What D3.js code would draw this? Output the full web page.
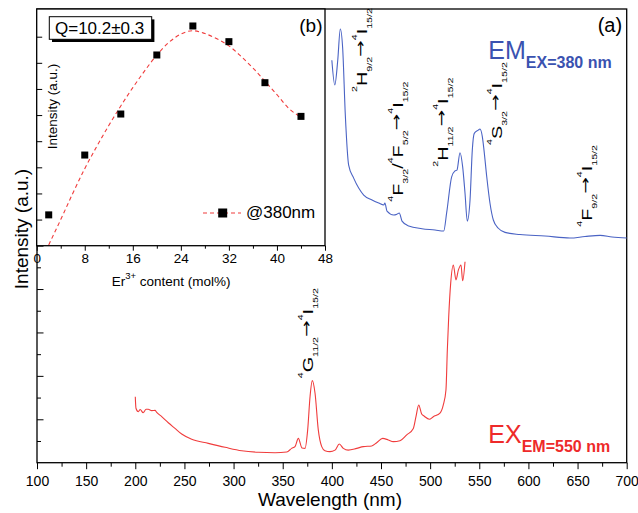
<!DOCTYPE html>
<html>
<head>
<meta charset="utf-8">
<script src="https://cdn.jsdelivr.net/npm/d3@7"></script>
<style>
  body { margin: 0; background: #fff; }
  svg { font-family: "Liberation Sans", Arial, sans-serif; }
</style>
</head>
<body>
<svg id="chart" width="638" height="513"></svg>
<script>
// emission spectrum (excitation 380 nm)
const emWavelength = [400,403,406,408.6,411,413.7,417.1,422.2,427.3,432.4,440.9,447.7,452.8,454,456.1,462.9,466.3,468.6,471.4,478.2,491.7,505,513.8,516.9,521.9,525.3,527.3,530.4,533.1,535.5,537.8,540.6,542.9,544.9,549,550.7,553.1,554.8,557.6,560.9,564.3,569.4,576.2,591.4,616.9,642.3,657.6,672.9,685.1,700];
const emIntensity = [18.54,17.40,18.54,19.98,19.10,16.02,13.71,13.11,12.65,12.33,12.10,11.96,11.87,11.96,11.59,11.41,11.45,11.50,11.13,10.90,10.78,10.72,10.67,11.54,13.17,13.44,13.48,14.28,13.63,12.41,11.13,12.10,14.40,15.17,15.32,15.37,15.02,14.40,13.17,11.95,11.18,10.80,10.61,10.51,10.44,10.35,10.42,10.47,10.40,10.35];

// excitation spectrum (emission 550 nm)
const exWavelength = [200,200.7,203.1,205,208,211,213.2,216.7,220.1,221.8,226.9,233.6,240.4,247.2,257.4,274.3,291.3,308.3,325.2,342.2,354.1,359.1,362.5,365.9,369.6,372.7,375.4,377.8,380.1,382.9,386.2,389.7,393,398.1,403.2,407.6,411.7,416.7,425.3,432,440.6,445.6,451.7,457.4,462.5,469.3,476.2,482.9,485.6,488.4,491.4,493.8,499.2,503.2,510,513.4,516.1,517.5,518.9,520.9,523.6,526.3,528.7,531.4,533.1,535.5];
const exIntensity = [3.04,2.51,2.35,2.45,2.30,2.46,2.46,2.40,2.41,2.32,2.12,1.84,1.58,1.32,1.08,0.89,0.71,0.55,0.48,0.46,0.49,0.66,0.74,1.12,0.68,0.66,1.51,3.04,3.78,3.20,1.51,0.74,0.55,0.51,0.58,0.86,0.66,0.58,0.66,0.74,0.77,0.92,1.12,1.05,0.97,1.01,1.28,1.58,2.12,2.66,2.24,2.15,2.00,2.12,2.28,2.66,3.35,5.19,6.72,8.26,9.11,8.42,8.87,9.11,8.38,9.26];

// inset (b): intensity vs Er3+ content
const erContent = [2,8,14,20,26,32,38,44];
const erIntensity = [1.18,3.47,5.04,7.30,8.41,7.81,6.24,4.95];
const fitContent = [2,4,6,8,10,12,14,16,18,20,22,24,26,28,30,32,34,36,38,40,42,44];
const fitIntensity = [0.03,1.0,2.0,2.95,3.8,4.6,5.35,6.05,6.7,7.3,7.78,8.1,8.23,8.12,7.92,7.65,7.25,6.8,6.3,5.78,5.25,4.92];

// ticks
const wlMajor = [100,150,200,250,300,350,400,450,500,550,600,650,700];
const wlMinor = [125,175,225,275,325,375,425,475,525,575,625,675];
const mainYMajor = [2,4,6,8,10,12,14,16,18,20];
const mainYMinor = [1,3,5,7,9,11,13,15,17,19];
const erMajor = [0,8,16,24,32,40,48];
const erMinor = [4,12,20,28,36,44];
const insetYMajor = [2,4,6,8];
const insetYMinor = [1,3,5,7];

const blue = "#4a63c4", red = "#f03c3c";
const svg = d3.select("#chart");

// main panel
const x = d3.scaleLinear().domain([100, 700]).range([37, 626.7]);
const y = d3.scaleLinear().domain([0, 20.9]).range([462.7, 9]);

svg.append("g")
  .attr("transform", "translate(0,462.7)")
  .call(d3.axisBottom(x).tickValues(wlMajor).tickSize(6.5).tickPadding(6.5))
  .call(g => g.select(".domain").remove())
  .call(g => g.selectAll("text").attr("font-size", 14).attr("font-family", null));
svg.append("g")
  .attr("transform", "translate(0,462.7)")
  .call(d3.axisBottom(x).tickValues(wlMinor).tickSize(4).tickFormat(""))
  .call(g => g.select(".domain").remove());
svg.append("g")
  .attr("transform", "translate(37,0)")
  .call(d3.axisLeft(y).tickValues(mainYMajor).tickSize(-6.5).tickFormat(""))
  .call(g => g.select(".domain").remove());
svg.append("g")
  .attr("transform", "translate(37,0)")
  .call(d3.axisLeft(y).tickValues(mainYMinor).tickSize(-4).tickFormat(""))
  .call(g => g.select(".domain").remove());

svg.append("rect")
  .attr("x", 37).attr("y", 9).attr("width", 589.7).attr("height", 453.7)
  .attr("fill", "none").attr("stroke", "#000").attr("stroke-width", 1.3);

const line = d3.line().curve(d3.curveMonotoneX);
svg.append("path")
  .attr("d", line(emWavelength.map((w, i) => [x(w), y(emIntensity[i])])))
  .attr("fill", "none").attr("stroke", blue).attr("stroke-width", 1.1);
svg.append("path")
  .attr("d", line(exWavelength.map((w, i) => [x(w), y(exIntensity[i])])))
  .attr("fill", "none").attr("stroke", red).attr("stroke-width", 1.1);

svg.append("text")
  .attr("transform", "translate(28,229) rotate(-90)")
  .attr("text-anchor", "middle").attr("font-size", 19)
  .text("Intensity (a.u.)");
svg.append("text")
  .attr("x", 330).attr("y", 506)
  .attr("text-anchor", "middle").attr("font-size", 19)
  .text("Wavelength (nm)");

svg.append("text").attr("x", 597.7).attr("y", 31.5).attr("font-size", 20).text("(a)");

// series labels
const emLabel = svg.append("text").attr("x", 488.3).attr("y", 59.3).attr("fill", "#3a52b0").attr("font-size", 25);
emLabel.append("tspan").text("EM");
emLabel.append("tspan").attr("dy", 9).attr("font-size", 16).attr("font-weight", "bold").text("EX=380 nm");
const exLabel = svg.append("text").attr("x", 488.3).attr("y", 442.7).attr("fill", "#ee2a2a").attr("font-size", 25);
exLabel.append("tspan").text("EX");
exLabel.append("tspan").attr("dy", 9).attr("font-size", 16).attr("font-weight", "bold").text("EM=550 nm");

// rotated transition labels with super/subscripts
function transition(px, py, parts) {
  const t = svg.append("text")
    .attr("transform", `translate(${px},${py}) rotate(-90) scale(1.42,1)`)
    .attr("font-size", 14);
  let cur = 0;
  parts.forEach(([s, kind]) => {
    const off = kind === "sup" ? -10 : kind === "sub" ? 5 : kind === "arr" ? -2 : 0;
    const size = kind === "sup" || kind === "sub" ? 7.5 : 14;
    t.append("tspan")
      .attr("dy", off - cur)
      .attr("font-size", size)
      .attr("font-family", kind === "arr" ? "DejaVu Sans" : null)
      .text(s);
    cur = off;
  });
}
const arrowTo = [["\u2192", "arr"], ["4", "sup"], ["I"], ["15/2", "sub"]];
transition(367, 92, [["2", "sup"], ["H"], ["9/2", "sub"], ...arrowTo]);
transition(402.7, 201.7, [["4", "sup"], ["F"], ["3/2", "sub"], ["/"], ["4", "sup"], ["F"], ["5/2", "sub"], ...arrowTo]);
transition(448.3, 166.7, [["2", "sup"], ["H"], ["11/2", "sub"], ...arrowTo]);
transition(501.7, 145, [["4", "sup"], ["S"], ["3/2", "sub"], ...arrowTo]);
transition(591.7, 226.7, [["4", "sup"], ["F"], ["9/2", "sub"], ...arrowTo]);
transition(313.3, 378.3, [["4", "sup"], ["G"], ["11/2", "sub"], ...arrowTo]);

// inset panel (b)
const ix = d3.scaleLinear().domain([0, 48]).range([36.7, 325]);
const iy = d3.scaleLinear().domain([0, 9.06]).range([245.7, 9]);

svg.append("rect")
  .attr("x", 36.7).attr("y", 9).attr("width", 288.3).attr("height", 236.7)
  .attr("fill", "#fff");

svg.append("g")
  .attr("transform", "translate(0,245.7)")
  .call(d3.axisBottom(ix).tickValues(erMajor).tickSize(5).tickPadding(3))
  .call(g => g.select(".domain").remove())
  .call(g => g.selectAll("text").attr("font-size", 13.5).attr("font-family", null));
svg.append("g")
  .attr("transform", "translate(0,245.7)")
  .call(d3.axisBottom(ix).tickValues(erMinor).tickSize(3).tickFormat(""))
  .call(g => g.select(".domain").remove());
svg.append("g")
  .attr("transform", "translate(36.7,0)")
  .call(d3.axisLeft(iy).tickValues(insetYMajor).tickSize(-5.5).tickFormat(""))
  .call(g => g.select(".domain").remove());
svg.append("g")
  .attr("transform", "translate(36.7,0)")
  .call(d3.axisLeft(iy).tickValues(insetYMinor).tickSize(-5.5).tickFormat(""))
  .call(g => g.select(".domain").remove());

svg.append("rect")
  .attr("x", 36.7).attr("y", 9).attr("width", 288.3).attr("height", 236.7)
  .attr("fill", "none").attr("stroke", "#000").attr("stroke-width", 1.3);

svg.append("path")
  .attr("d", line(fitContent.map((c, i) => [ix(c), iy(fitIntensity[i])])))
  .attr("fill", "none").attr("stroke", red).attr("stroke-width", 1.1)
  .attr("stroke-dasharray", "4,3");

svg.selectAll(".er-dot")
  .data(erContent)
  .enter()
  .append("rect")
  .attr("class", "er-dot")
  .attr("x", (d, i) => ix(d) - 3.5)
  .attr("y", (d, i) => iy(erIntensity[i]) - 3.5)
  .attr("width", 7).attr("height", 7)
  .attr("fill", "#000");

svg.append("text")
  .attr("transform", "translate(57,106.5) rotate(-90)")
  .attr("text-anchor", "middle").attr("font-size", 13.5)
  .text("Intensity (a.u.)");

const erLabel = svg.append("text").attr("x", 111.7).attr("y", 286).attr("font-size", 13.5);
erLabel.append("tspan").text("Er");
erLabel.append("tspan").attr("dy", -7).attr("font-size", 9.5).text("3+");
erLabel.append("tspan").attr("dy", 7).text(" content (mol%)");

// Q box with shadow
svg.append("rect").attr("x", 52).attr("y", 19.4).attr("width", 102.4).attr("height", 22.6).attr("fill", "#000");
svg.append("rect").attr("x", 49.3).attr("y", 16.7).attr("width", 102.4).attr("height", 22.6)
  .attr("fill", "#fff").attr("stroke", "#000").attr("stroke-width", 1);
svg.append("text").attr("x", 55).attr("y", 34.3).attr("font-size", 17).text("Q=10.2\u00b10.3");

svg.append("text").attr("x", 299.3).attr("y", 31.7).attr("font-size", 19).text("(b)");

// legend
svg.append("line").attr("x1", 203).attr("x2", 241).attr("y1", 213).attr("y2", 213)
  .attr("stroke", red).attr("stroke-width", 1.1).attr("stroke-dasharray", "4,3");
svg.append("rect").attr("x", 218.2).attr("y", 208.5).attr("width", 9).attr("height", 9).attr("fill", "#000");
svg.append("text").attr("x", 246).attr("y", 218.3).attr("font-size", 17).text("@380nm");
</script>
</body>
</html>
